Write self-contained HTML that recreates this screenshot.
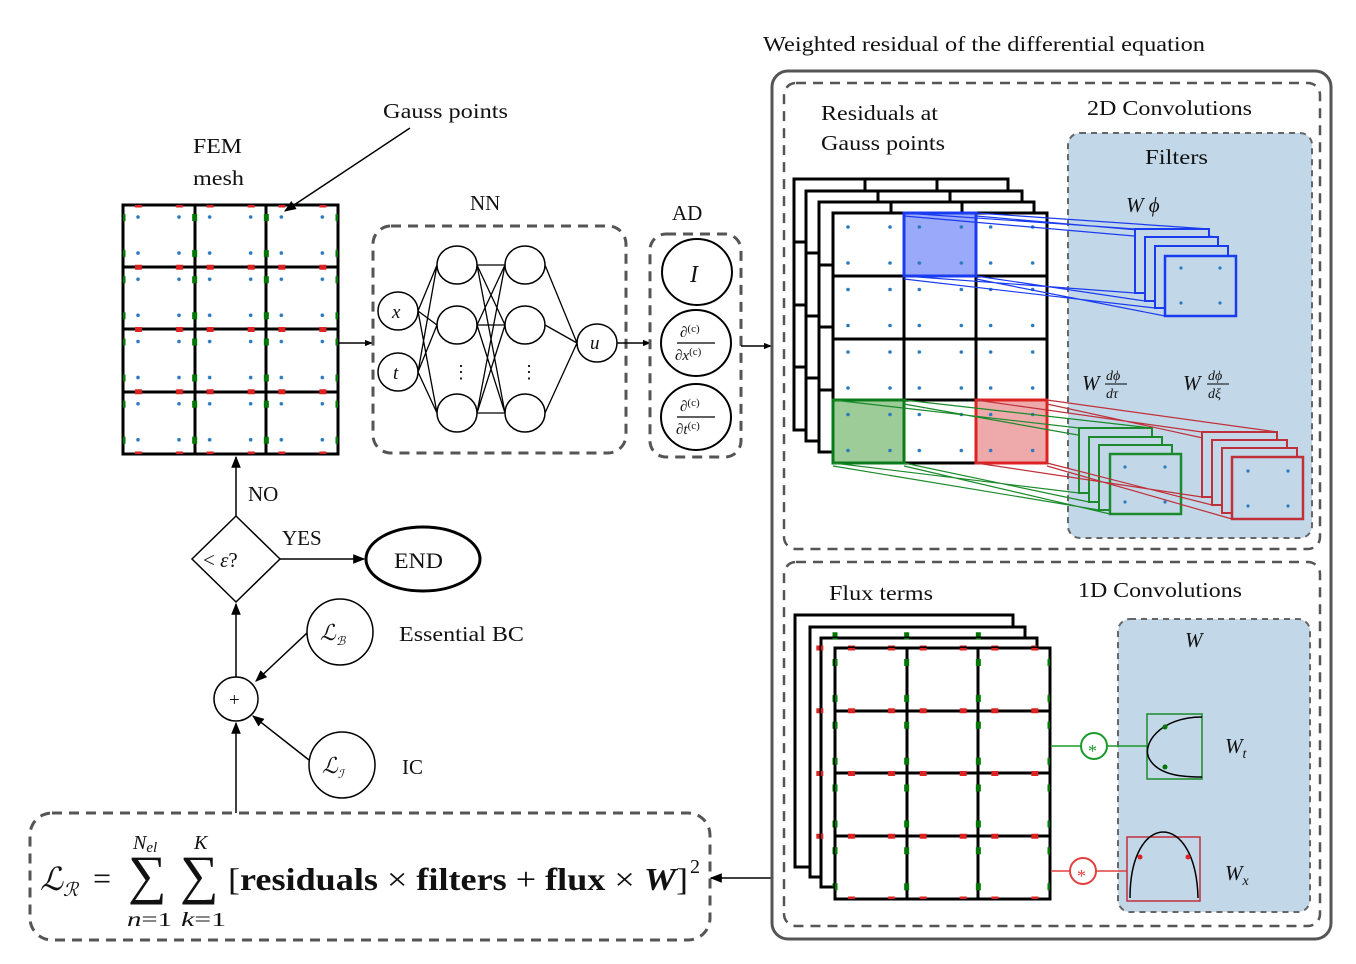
<!DOCTYPE html>
<html><head><meta charset="utf-8"><style>
html,body{margin:0;padding:0;background:#fff}
svg{display:block}
text{font-family:"Liberation Serif","DejaVu Serif",serif;fill:#111}
.i{font-style:italic}
</style></head><body>
<svg width="1356" height="964" viewBox="0 0 1356 964" xmlns="http://www.w3.org/2000/svg">
<defs>
<marker id="ah" viewBox="0 0 10 10" refX="9" refY="5" markerWidth="8" markerHeight="8" orient="auto-start-reverse" markerUnits="userSpaceOnUse"><path d="M0,1 L10,5 L0,9 Z" fill="#000"/></marker>
<marker id="ahb" viewBox="0 0 10 10" refX="9" refY="5" markerWidth="12" markerHeight="12" orient="auto" markerUnits="userSpaceOnUse"><path d="M0,1 L10,5 L0,9 Z" fill="#000"/></marker>
<pattern id="mesh" patternUnits="userSpaceOnUse" x="123" y="205" width="71.67" height="62.25">
 <circle cx="15" cy="12" r="1.8" fill="#2a7ac0"/><circle cx="56" cy="12" r="1.8" fill="#2a7ac0"/>
 <circle cx="15" cy="48" r="1.8" fill="#2a7ac0"/><circle cx="56" cy="48" r="1.8" fill="#2a7ac0"/>
 <rect x="12" y="0" width="7" height="2.5" fill="#d22"/><rect x="53" y="0" width="7" height="2.5" fill="#d22"/>
 <rect x="12" y="59.75" width="7" height="2.5" fill="#d22"/><rect x="53" y="59.75" width="7" height="2.5" fill="#d22"/>
 <rect x="0" y="9" width="2.5" height="7" fill="#070"/><rect x="0" y="45" width="2.5" height="7" fill="#070"/>
 <rect x="69.17" y="9" width="2.5" height="7" fill="#070"/><rect x="69.17" y="45" width="2.5" height="7" fill="#070"/>
</pattern>
<pattern id="res" patternUnits="userSpaceOnUse" x="833" y="213" width="71.33" height="62.5">
 <circle cx="15" cy="14" r="1.8" fill="#2a7ac0"/><circle cx="57" cy="14" r="1.8" fill="#2a7ac0"/>
 <circle cx="15" cy="50" r="1.8" fill="#2a7ac0"/><circle cx="57" cy="50" r="1.8" fill="#2a7ac0"/>
</pattern>
<pattern id="flux" patternUnits="userSpaceOnUse" x="835" y="648" width="71.67" height="62.75">
 <rect x="13" y="0" width="7" height="2.5" fill="#d22"/><rect x="53" y="0" width="7" height="2.5" fill="#d22"/>
 <rect x="13" y="60.25" width="7" height="2.5" fill="#d22"/><rect x="53" y="60.25" width="7" height="2.5" fill="#d22"/>
 <rect x="0" y="11" width="2.5" height="7" fill="#070"/><rect x="0" y="47" width="2.5" height="7" fill="#070"/>
 <rect x="69.17" y="11" width="2.5" height="7" fill="#070"/><rect x="69.17" y="47" width="2.5" height="7" fill="#070"/>
</pattern>
</defs>

<text x="193" y="153" font-size="21" textLength="49" lengthAdjust="spacingAndGlyphs">FEM</text>
<text x="193" y="185" font-size="21" textLength="51" lengthAdjust="spacingAndGlyphs">mesh</text>
<text x="383" y="118" font-size="21" textLength="125" lengthAdjust="spacingAndGlyphs">Gauss points</text>
<rect x="123" y="205" width="215" height="249" fill="#fff" stroke="#000" stroke-width="3"/>
<g stroke="#000" stroke-width="3">
<line x1="195" y1="205" x2="195" y2="454"/><line x1="266" y1="205" x2="266" y2="454"/>
<line x1="123" y1="267" x2="338" y2="267"/><line x1="123" y1="329" x2="338" y2="329"/><line x1="123" y1="392" x2="338" y2="392"/>
</g>
<rect x="123" y="205" width="215" height="249" fill="url(#mesh)"/>
<line x1="410" y1="128" x2="285" y2="211" stroke="#000" stroke-width="1.5" marker-end="url(#ahb)"/>
<line x1="339" y1="343" x2="372" y2="343" stroke="#000" stroke-width="1.5" marker-end="url(#ah)"/>

<text x="470" y="210" font-size="21">NN</text>
<rect x="373" y="226" width="253" height="227" rx="18" fill="none" stroke="#555" stroke-width="3" stroke-dasharray="10,7"/>
<g stroke="#000" stroke-width="1.3" fill="none">
<path d="M418,311 L437,265 M418,311 L437,325 M418,311 L437,413 M418,372 L437,265 M418,372 L437,325 M418,372 L437,413"/>
<path d="M477,265 L505,265 M477,265 L505,325 M477,265 L505,413 M477,325 L505,265 M477,325 L505,325 M477,325 L505,413 M477,413 L505,265 M477,413 L505,325 M477,413 L505,413"/>
<path d="M545,265 L577,343 M545,325 L577,343 M545,413 L577,343"/>
</g>
<g stroke="#000" stroke-width="1.5" fill="#fff">
<ellipse cx="398" cy="311" rx="20" ry="19"/><ellipse cx="398" cy="372" rx="20" ry="19"/>
<ellipse cx="457" cy="265" rx="20" ry="19"/><ellipse cx="457" cy="325" rx="20" ry="19"/><ellipse cx="457" cy="413" rx="20" ry="19"/>
<ellipse cx="525" cy="265" rx="20" ry="19"/><ellipse cx="525" cy="325" rx="20" ry="19"/><ellipse cx="525" cy="413" rx="20" ry="19"/>
<ellipse cx="597" cy="343" rx="20" ry="19"/>
</g>
<text x="392" y="318" font-size="19" class="i">x</text>
<text x="393" y="379" font-size="19" class="i">t</text>
<text x="590" y="349" font-size="19" class="i">u</text>
<text x="452" y="378" font-size="18">⋮</text><text x="520" y="378" font-size="18">⋮</text>
<line x1="617" y1="343" x2="650" y2="343" stroke="#000" stroke-width="1.5" marker-end="url(#ah)"/>

<text x="672" y="220" font-size="21">AD</text>
<rect x="650" y="234" width="91" height="223" rx="16" fill="none" stroke="#555" stroke-width="3" stroke-dasharray="10,7"/>
<g stroke="#000" stroke-width="2" fill="#fff">
<ellipse cx="697" cy="272" rx="35" ry="33"/><ellipse cx="696" cy="343" rx="35" ry="33"/><ellipse cx="696" cy="417" rx="35" ry="33"/>
</g>
<text x="690" y="282" font-size="24" class="i">I</text>
<text x="680" y="337" font-size="15">∂<tspan font-size="11" dy="-5">(c)</tspan></text>
<line x1="677" y1="343" x2="715" y2="343" stroke="#000" stroke-width="1.2"/>
<text x="675" y="360" font-size="15">∂<tspan class="i">x</tspan><tspan font-size="11" dy="-5">(c)</tspan></text>
<text x="680" y="411" font-size="15">∂<tspan font-size="11" dy="-5">(c)</tspan></text>
<line x1="677" y1="417" x2="715" y2="417" stroke="#000" stroke-width="1.2"/>
<text x="676" y="434" font-size="15">∂<tspan class="i">t</tspan><tspan font-size="11" dy="-5">(c)</tspan></text>
<line x1="741" y1="346" x2="771" y2="346" stroke="#000" stroke-width="1.5" marker-end="url(#ah)"/>

<line x1="236" y1="516" x2="236" y2="457" stroke="#000" stroke-width="1.5" marker-end="url(#ahb)"/>
<text x="248" y="501" font-size="21">NO</text>
<path d="M236,516 L280,559 L236,602 L192,559 Z" fill="#fff" stroke="#000" stroke-width="1.5"/>
<text x="203" y="567" font-size="21">&lt; <tspan class="i">ε</tspan>?</text>
<text x="282" y="545" font-size="21">YES</text>
<line x1="280" y1="559" x2="364" y2="559" stroke="#000" stroke-width="1.5" marker-end="url(#ahb)"/>
<ellipse cx="423" cy="559" rx="57" ry="32" fill="#fff" stroke="#000" stroke-width="3"/>
<text x="394" y="568" font-size="22" textLength="49" lengthAdjust="spacingAndGlyphs">END</text>
<line x1="236" y1="677" x2="236" y2="604" stroke="#000" stroke-width="1.5" marker-end="url(#ahb)"/>
<circle cx="236" cy="699" r="22" fill="#fff" stroke="#000" stroke-width="1.5"/>
<text x="229" y="706" font-size="19">+</text>
<circle cx="340" cy="632" r="33" fill="#fff" stroke="#000" stroke-width="1.5"/>
<text x="320" y="640" font-size="22" class="i">ℒ<tspan font-size="12" dy="5">ℬ</tspan></text>
<circle cx="342" cy="765" r="33" fill="#fff" stroke="#000" stroke-width="1.5"/>
<text x="322" y="773" font-size="22" class="i">ℒ<tspan font-size="12" dy="5">ℐ</tspan></text>
<line x1="307" y1="633" x2="256" y2="681" stroke="#000" stroke-width="1.5" marker-end="url(#ahb)"/>
<line x1="309" y1="760" x2="253" y2="716" stroke="#000" stroke-width="1.5" marker-end="url(#ahb)"/>
<text x="399" y="641" font-size="21" textLength="125" lengthAdjust="spacingAndGlyphs">Essential BC</text>
<text x="402" y="774" font-size="21">IC</text>
<line x1="236" y1="813" x2="236" y2="723" stroke="#000" stroke-width="1.5" marker-end="url(#ahb)"/>

<rect x="30" y="813" width="680" height="127" rx="22" fill="none" stroke="#555" stroke-width="3" stroke-dasharray="10,7"/>
<text x="40" y="890" font-size="32" class="i">ℒ<tspan font-size="19" dy="6">ℛ</tspan></text>
<text x="93" y="889" font-size="32">=</text>
<text x="128" y="893" font-size="54">∑</text>
<text x="180" y="893" font-size="54">∑</text>
<text x="133" y="849" font-size="20" class="i">N<tspan font-size="15" dy="3">el</tspan></text>
<text x="194" y="849" font-size="20" class="i">K</text>
<text x="127" y="926" font-size="20" textLength="45" lengthAdjust="spacingAndGlyphs"><tspan class="i">n</tspan>=1</text>
<text x="181" y="926" font-size="20" textLength="45" lengthAdjust="spacingAndGlyphs"><tspan class="i">k</tspan>=1</text>
<text x="228" y="890" font-size="32" textLength="460" lengthAdjust="spacingAndGlyphs">[<tspan font-weight="bold">residuals</tspan> × <tspan font-weight="bold">filters</tspan> + <tspan font-weight="bold">flux</tspan> × <tspan font-weight="bold" class="i">W</tspan>]</text>
<text x="690" y="873" font-size="20">2</text>
<line x1="771" y1="878" x2="711" y2="878" stroke="#000" stroke-width="1.5" marker-end="url(#ahb)"/>

<text x="763" y="51" font-size="21" textLength="442" lengthAdjust="spacingAndGlyphs">Weighted residual of the differential equation</text>
<rect x="772" y="71" width="559" height="868" rx="16" fill="none" stroke="#555" stroke-width="3"/>
<rect x="784" y="83" width="536" height="466" rx="12" fill="none" stroke="#555" stroke-width="2.5" stroke-dasharray="10,7"/>
<rect x="784" y="562" width="536" height="364" rx="12" fill="none" stroke="#555" stroke-width="2.5" stroke-dasharray="10,7"/>
<text x="821" y="120" font-size="21" textLength="117" lengthAdjust="spacingAndGlyphs">Residuals at</text>
<text x="821" y="150" font-size="21" textLength="124" lengthAdjust="spacingAndGlyphs">Gauss points</text>
<text x="1087" y="115" font-size="21" textLength="165" lengthAdjust="spacingAndGlyphs">2D Convolutions</text>
<rect x="1068" y="133" width="244" height="405" rx="12" fill="#c2d8e9" stroke="#666" stroke-width="2" stroke-dasharray="6,5"/>
<text x="1145" y="164" font-size="21" textLength="63" lengthAdjust="spacingAndGlyphs">Filters</text>
<text x="1126" y="212" font-size="21" class="i">W ϕ</text>
<text x="1082" y="390" font-size="21" class="i">W</text>
<text x="1106" y="380" font-size="14" class="i">dϕ</text><line x1="1105" y1="384" x2="1127" y2="384" stroke="#000"/><text x="1106" y="398" font-size="14" class="i">dτ</text>
<text x="1183" y="390" font-size="21" class="i">W</text>
<text x="1208" y="380" font-size="14" class="i">dϕ</text><line x1="1207" y1="384" x2="1229" y2="384" stroke="#000"/><text x="1208" y="398" font-size="14" class="i">dξ</text>

<g fill="#fff" stroke="#000" stroke-width="3">
<rect x="794" y="179" width="214" height="251"/><path d="M865,179 V191 M937,179 V191 M794,242 H806 M794,305 H806 M794,367 H806" />
<rect x="806" y="191" width="216" height="250"/><path d="M878,191 V202 M950,191 V202 M806,253 H819 M806,316 H819 M806,378 H819"/>
<rect x="819" y="202" width="215" height="250"/><path d="M891,202 V213 M962,202 V213 M819,265 H833 M819,327 H833 M819,390 H833"/>
<rect x="833" y="213" width="214" height="250"/>
</g>
<g stroke="#000" stroke-width="3">
<line x1="904" y1="213" x2="904" y2="463"/><line x1="976" y1="213" x2="976" y2="463"/>
<line x1="833" y1="276" x2="1047" y2="276"/><line x1="833" y1="339" x2="1047" y2="339"/><line x1="833" y1="400" x2="1047" y2="400"/>
</g>
<rect x="904" y="213" width="72" height="63" fill="#9aa9fa" stroke="#1a3cf0" stroke-width="3"/>
<rect x="833" y="400" width="71" height="63" fill="#9dcc98" stroke="#0a7a1a" stroke-width="3"/>
<rect x="976" y="400" width="71" height="63" fill="#eeaaaa" stroke="#dd2222" stroke-width="3"/>
<rect x="833" y="213" width="214" height="250" fill="url(#res)"/>

<g stroke="#1a3cf0" stroke-width="1.2" fill="none">
<path d="M904,213 L1135,229 M976,213 L1209,229 M904,216 L1145,237 M976,216 L1218,237 M904,276 L1135,293 M976,276 L1145,301 M904,279 L1155,308 M976,279 L1165,316"/>
</g>
<g fill="#c2d8e9" stroke="#1a3cf0" stroke-width="2">
<rect x="1135" y="229" width="74" height="64"/><rect x="1145" y="237" width="73" height="64"/><rect x="1155" y="246" width="73" height="62"/><rect x="1165" y="256" width="71" height="60" stroke-width="2.5"/>
</g>
<g fill="#2a7ac0"><circle cx="1181" cy="268" r="1.6"/><circle cx="1220" cy="268" r="1.6"/><circle cx="1181" cy="303" r="1.6"/><circle cx="1220" cy="303" r="1.6"/></g>

<g stroke="#1a8a2a" stroke-width="1.2" fill="none">
<path d="M833,400 L1079,428 M904,400 L1152,428 M904,404 L1089,437 M833,463 L1079,493 M904,463 L1089,502 M833,466 L1099,510 M904,466 L1110,514"/>
</g>
<g fill="#c2d8e9" stroke="#1a8a2a" stroke-width="2">
<rect x="1079" y="428" width="73" height="65"/><rect x="1089" y="437" width="73" height="65"/><rect x="1099" y="445" width="73" height="65"/><rect x="1110" y="454" width="71" height="60" stroke-width="2.5"/>
</g>
<g fill="#2a7ac0"><circle cx="1125" cy="467" r="1.6"/><circle cx="1165" cy="467" r="1.6"/><circle cx="1125" cy="502" r="1.6"/><circle cx="1165" cy="502" r="1.6"/></g>

<g stroke="#c0303a" stroke-width="1.2" fill="none">
<path d="M976,400 L1202,432 M1047,400 L1277,432 M1047,404 L1212,440 M976,463 L1202,497 M1047,463 L1212,505 M1047,466 L1232,519"/>
</g>
<g fill="#c2d8e9" stroke="#c0303a" stroke-width="2">
<rect x="1202" y="432" width="75" height="65"/><rect x="1212" y="440" width="75" height="65"/><rect x="1222" y="448" width="75" height="65"/><rect x="1232" y="457" width="71" height="62" stroke-width="2.5"/>
</g>
<g fill="#2a7ac0"><circle cx="1248" cy="471" r="1.6"/><circle cx="1288" cy="471" r="1.6"/><circle cx="1248" cy="506" r="1.6"/><circle cx="1288" cy="506" r="1.6"/></g>

<text x="829" y="600" font-size="21" textLength="104" lengthAdjust="spacingAndGlyphs">Flux terms</text>
<text x="1078" y="597" font-size="21" textLength="164" lengthAdjust="spacingAndGlyphs">1D Convolutions</text>
<g fill="#fff" stroke="#000" stroke-width="3">
<rect x="795" y="615" width="218" height="252"/><rect x="795" y="615" width="218" height="252" fill="url(#flux)" stroke="none"/>
<rect x="810" y="627" width="215" height="250"/><rect x="810" y="627" width="215" height="250" fill="url(#flux)" stroke="none"/>
<rect x="821" y="638" width="216" height="249"/><rect x="821" y="638" width="216" height="249" fill="url(#flux)" stroke="none"/>
<rect x="835" y="648" width="215" height="251"/>
</g>
<g stroke="#000" stroke-width="3">
<line x1="907" y1="648" x2="907" y2="899"/><line x1="978" y1="648" x2="978" y2="899"/>
<line x1="835" y1="711" x2="1050" y2="711"/><line x1="835" y1="773" x2="1050" y2="773"/><line x1="835" y1="836" x2="1050" y2="836"/>
</g>
<rect x="835" y="648" width="215" height="251" fill="url(#flux)"/>

<rect x="1118" y="619" width="192" height="293" rx="12" fill="#c2d8e9" stroke="#666" stroke-width="2" stroke-dasharray="6,5"/>
<text x="1185" y="647" font-size="21" class="i">W</text>
<line x1="1051" y1="746" x2="1081" y2="746" stroke="#1a9a2a" stroke-width="1.5"/>
<line x1="1107" y1="746" x2="1147" y2="746" stroke="#1a9a2a" stroke-width="1.5"/>
<circle cx="1094" cy="746" r="13" fill="#fff" stroke="#1a9a2a" stroke-width="2"/>
<text x="1088" y="757" font-size="18" style="fill:#1a9a2a">*</text>
<rect x="1147" y="714" width="55" height="65" fill="none" stroke="#1a8a2a" stroke-width="1.5"/>
<path d="M1202,717 C1160,717 1140,745 1150,760 C1160,776 1185,777 1202,777" fill="none" stroke="#000" stroke-width="1.5"/>
<circle cx="1165" cy="727" r="2.5" fill="#070"/><circle cx="1165" cy="767" r="2.5" fill="#070"/>
<text x="1225" y="753" font-size="21" class="i">W<tspan font-size="14" dy="5">t</tspan></text>

<line x1="1051" y1="871" x2="1070" y2="871" stroke="#e04040" stroke-width="1.5"/>
<line x1="1096" y1="871" x2="1127" y2="871" stroke="#e04040" stroke-width="1.5"/>
<circle cx="1083" cy="871" r="13" fill="#fff" stroke="#e04040" stroke-width="2"/>
<text x="1077" y="882" font-size="18" style="fill:#e04040">*</text>
<rect x="1127" y="837" width="73" height="64" fill="none" stroke="#c0303a" stroke-width="1.5"/>
<path d="M1130,898 C1130,810 1196,810 1198,898" fill="none" stroke="#000" stroke-width="1.5"/>
<circle cx="1140" cy="857" r="2.5" fill="#d22"/><circle cx="1188" cy="857" r="2.5" fill="#d22"/>
<text x="1225" y="880" font-size="21" class="i">W<tspan font-size="14" dy="5">x</tspan></text>
</svg>
</body></html>
